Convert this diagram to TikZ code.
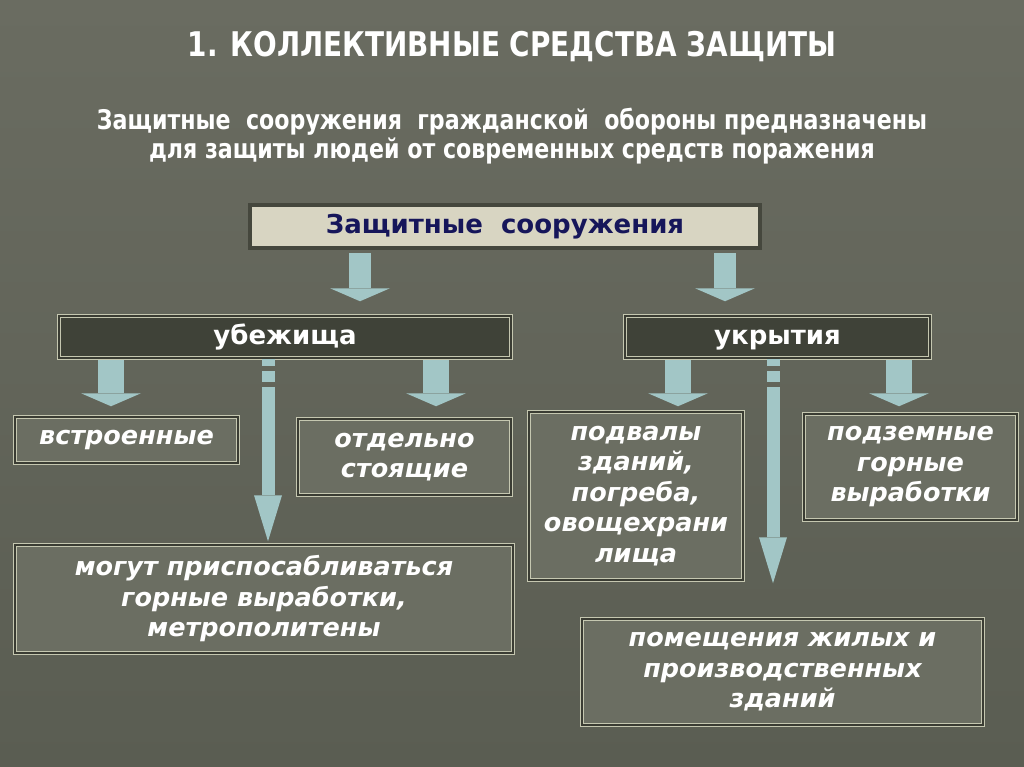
\documentclass[tikz,border=0pt]{standalone}
\usepackage{fontspec}
\setmainfont{DejaVu Sans}
\newfontfamily\condfont[FakeStretch=0.82]{DejaVu Sans}
\usetikzlibrary{arrows.meta}
\definecolor{bgtop}{HTML}{6A6C61}
\definecolor{bgbottom}{HTML}{5A5D52}
\definecolor{headfill}{HTML}{D8D5C2}
\definecolor{headline}{HTML}{45473D}
\definecolor{headtext}{HTML}{16165A}
\definecolor{darkfill}{HTML}{3F4238}
\definecolor{greyfill}{HTML}{6B6E62}
\definecolor{frameline}{HTML}{C5C7B0}
\definecolor{framegap}{HTML}{3A3C33}
\definecolor{arrowfill}{HTML}{A2C6C6}
\tikzset{
	boxnode/.style = {
		align=center,
		inner sep=0pt,
		text centered,
		anchor=center
	},
	node_head/.style = {
		boxnode,
		fill=headfill,
		draw=headline,
		line width=4pt,
		text=headtext,
		text height=19pt,
		text depth=5pt,
		font=\fontsize{26}{30}\selectfont\bfseries
	},
	node_dark/.style = {
		boxnode,
		fill=darkfill,
		draw=frameline,
		line width=1.5pt,
		double=framegap,
		double distance=1.5pt,
		text=white,
		text height=19pt,
		text depth=5pt,
		font=\fontsize{26}{30}\selectfont\bfseries
	},
	node_grey/.style = {
		node_dark,
		fill=greyfill,
		text height=,
		text depth=,
		font=\fontsize{25.5}{30.5}\selectfont\bfseries\itshape
	},
	arrow_short/.style = {
		draw=arrowfill,
		line width=26pt,
		-{Triangle[width=60pt,length=13pt,line width=0pt]}
	},
	arrow_top/.style = {
		arrow_short,
		line width=22pt
	},
	arrow_long/.style = {
		draw=arrowfill,
		line width=13pt,
		dash pattern=on 7pt off 5pt on 11pt off 5pt on 800pt,
		-{Triangle[width=28pt,length=46pt,line width=0pt]}
	},
}
\begin{document}
\begin{tikzpicture}[x=1pt,y=-1pt]
\useasboundingbox (0,0) rectangle (1024,767);
\shade[top color=bgtop, bottom color=bgbottom] (0,0) rectangle (1024,767);

% title and intro
\node [boxnode, text=white, font=\condfont\fontsize{34}{38}\selectfont\bfseries] (title) at (512,47) {1. КОЛЛЕКТИВНЫЕ СРЕДСТВА ЗАЩИТЫ};
\node [boxnode, text=white, font=\condfont\fontsize{27}{29}\selectfont\bfseries] (intro) at (512,136) {Защитные\ \ сооружения\ \ гражданской\ \ обороны предназначены\\для защиты людей от современных средств поражения};

% boxes
\node [node_head, minimum width=510pt, minimum height=43pt] (top) at (505,226.5) {Защитные\ \ сооружения};
\node [node_dark, minimum width=452pt, minimum height=42pt] (ub) at (285,337) {убежища};
\node [node_dark, minimum width=305pt, minimum height=42pt] (uk) at (777.5,337) {укрытия};
\node [node_grey, minimum width=223pt, minimum height=46pt] (vstr) at (126.5,440) {встроенные};
\node [node_grey, minimum width=213pt, minimum height=76pt] (otd) at (404.5,457) {отдельно\\стоящие};
\node [node_grey, minimum width=498pt, minimum height=108pt] (mogut) at (264,599) {могут приспосабливаться\\горные выработки,\\метрополитены};
\node [node_grey, minimum width=214pt, minimum height=168pt] (podv) at (636,496) {подвалы\\зданий,\\погреба,\\овощехрани\\лища};
\node [node_grey, minimum width=213pt, minimum height=106pt] (podz) at (910.5,467) {подземные\\горные\\выработки};
\node [node_grey, minimum width=401pt, minimum height=106pt] (pom) at (782.5,672) {помещения жилых и\\производственных\\зданий};

% arrow columns
\coordinate (a_ub) at (360,0);
\coordinate (a_uk) at (725,0);
\coordinate (a_vstr) at (111,0);
\coordinate (a_mogut) at (268,0);
\coordinate (a_otd) at (436,0);
\coordinate (a_podv) at (678,0);
\coordinate (a_pom) at (773,0);
\coordinate (a_podz) at (899,0);

% arrows
\draw [arrow_top, shorten <=3pt, shorten >=14pt] (top.south -| a_ub) -- (ub.north -| a_ub);
\draw [arrow_top, shorten <=3pt, shorten >=14pt] (top.south -| a_uk) -- (uk.north -| a_uk);
\draw [arrow_short, shorten <=1pt, shorten >=10pt] (ub.south -| a_vstr) -- (vstr.north -| a_vstr);
\draw [arrow_short, shorten <=1pt, shorten >=12pt] (ub.south -| a_otd) -- (otd.north -| a_otd);
\draw [arrow_long, shorten >=3pt] (ub.south -| a_mogut) -- (mogut.north -| a_mogut);
\draw [arrow_short, shorten <=1pt, shorten >=5pt] (uk.south -| a_podv) -- (podv.north -| a_podv);
\draw [arrow_short, shorten <=1pt, shorten >=7pt] (uk.south -| a_podz) -- (podz.north -| a_podz);
\draw [arrow_long, shorten >=35pt] (uk.south -| a_pom) -- (pom.north -| a_pom);
\end{tikzpicture}
\end{document}
